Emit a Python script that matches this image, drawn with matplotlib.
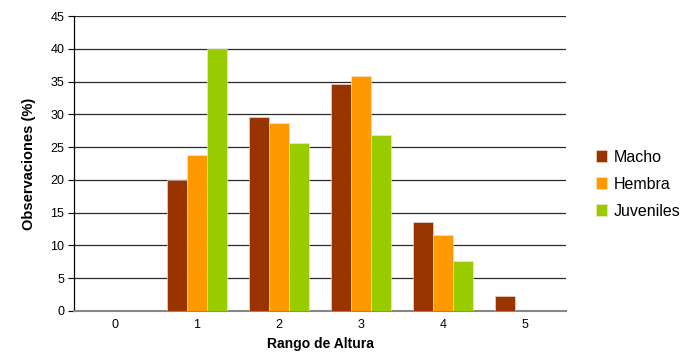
import matplotlib
matplotlib.use("Agg")
import matplotlib.pyplot as plt
import numpy as np

plt.rcParams['font.family'] = ['Liberation Sans', 'DejaVu Sans']

categories = ["0", "1", "2", "3", "4", "5"]
macho = [0, 20.0, 29.6, 34.7, 13.5, 2.3]
hembra = [0, 23.8, 28.7, 35.8, 11.6, 0]
juveniles = [0, 40.0, 25.7, 26.9, 7.6, 0]
series_names = ["Macho", "Hembra", "Juveniles"]
colors = ["#993300", "#FF9900", "#99CC00"]

fig = plt.figure(figsize=(6.82, 3.52), dpi=100)
ax = fig.add_axes([0.1085, 0.1165, 0.7215, 0.838])

x = np.arange(len(categories))
w = 0.245
for i, (vals, name, c) in enumerate(zip([macho, hembra, juveniles], series_names, colors)):
    ax.bar(x + (i - 1) * w, vals, width=w, color=c, label=name,
           edgecolor="#f2e6dc", linewidth=0.4, zorder=3)

ax.set_xlim(-0.5, len(categories) - 0.5)
ax.set_ylim(0, 45)
ax.set_yticks(np.arange(0, 46, 5))
ax.set_xticks(x)
ax.set_xticklabels(categories)
ax.yaxis.grid(True, color="#2a2a2a", linewidth=0.9, zorder=0)
ax.set_axisbelow(True)

for s in ["top", "right"]:
    ax.spines[s].set_visible(False)
ax.spines["left"].set_color("#000000")
ax.spines["left"].set_linewidth(0.9)
ax.spines["bottom"].set_color("#888888")
ax.spines["bottom"].set_linewidth(1.5)

ax.tick_params(axis="y", length=4, width=0.8, labelsize=9, colors="#000000", pad=3)
ax.tick_params(axis="x", length=0, labelsize=9, pad=6)

ax.set_xlabel("Rango de Altura", fontsize=10, fontweight="bold", labelpad=4)
ax.set_ylabel("Observaciones (%)", fontsize=10.5, fontweight="bold", labelpad=10)

fig.legend(loc="center left", bbox_to_anchor=(0.862, 0.477), frameon=False,
           fontsize=11.5, handlelength=0.7, handleheight=0.7,
           handletextpad=0.4, labelspacing=0.75, borderpad=0)

fig.savefig("out.png", dpi=100)
